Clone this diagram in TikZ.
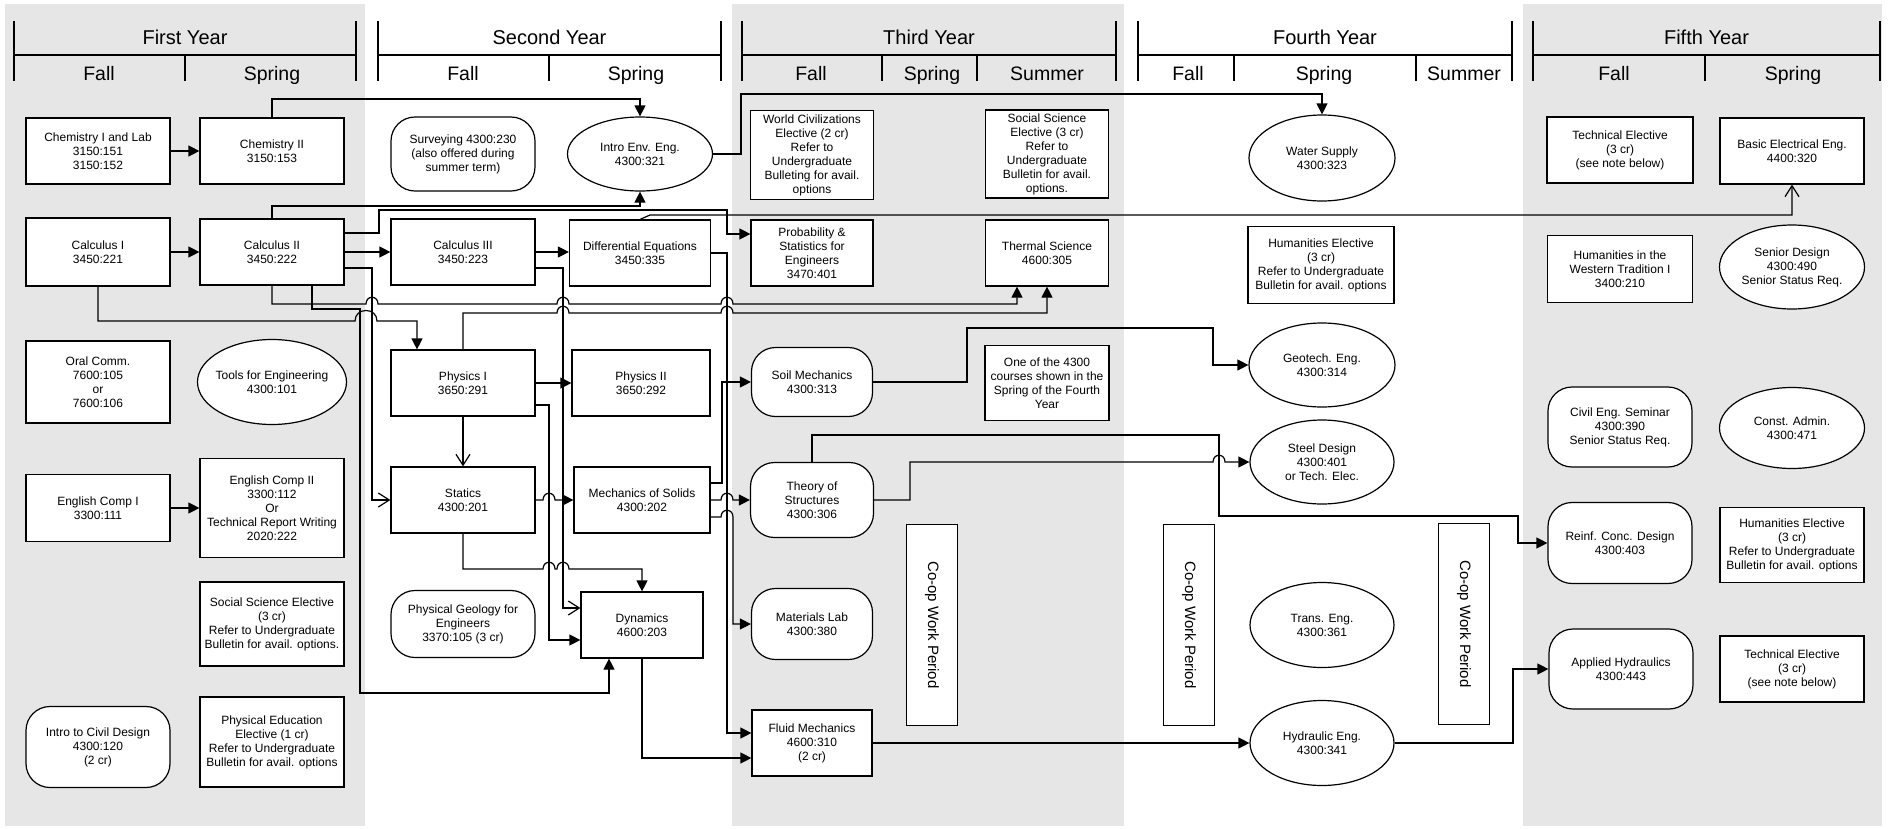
\documentclass[tikz,border=0pt]{standalone}
\usepackage{fontspec}
\setmainfont{Liberation Sans}
\usetikzlibrary{arrows.meta,shapes.geometric}
\definecolor{bandgray}{RGB}{230,230,230}
\newcommand{\coursefont}{\fontsize{12}{14}\selectfont}
\newcommand{\yearfont}{\fontsize{20}{24}\selectfont}
\newcommand{\semfont}{\fontsize{19.5}{23}\selectfont}
\newcommand{\coopfont}{\fontsize{15}{18}\selectfont}
% small jump of a connector over a vertical line at x=#1
\newcommand{\hop}[2]{-- (#1-6,#2) .. controls (#1-6,#2-9) and (#1+6,#2-9) .. (#1+6,#2)}
\tikzset{course/.style={draw, fill=white, line width=1.2pt, align=center, font=\coursefont, inner sep=1pt, minimum width=144pt, minimum height=66pt}}
\tikzset{lab/.style={course, rounded corners=24pt}}
\tikzset{elect/.style={course, ellipse, inner xsep=-20pt, inner ysep=-6pt}}
\tikzset{coop/.style={draw, fill=white, line width=.9pt, rotate=-90, font=\coopfont, minimum width=201pt, minimum height=51pt}}
\tikzset{prereq/.style={line width=1.2pt, -{Triangle[length=11pt,width=11pt]}}}
\tikzset{prereqopen/.style={line width=1.2pt, -{Straight Barb[length=11pt,width=14pt]}}}
\tikzset{header/.style={line width=1.3pt}}

\begin{document}
\begin{tikzpicture}[x=1pt,y=-1pt]
    \useasboundingbox (0,0) rectangle (1891,828);
    \foreach \l/\r in {5/365, 732/1124, 1523/1882} {
        \fill [bandgray] (\l,4) rectangle (\r,826);
    }
    % year headers
    \foreach \l/\r/\yr in {14/356/First Year, 378/721/Second Year, 742/1116/Third Year, 1138/1512/Fourth Year, 1533/1880/Fifth Year} {
        \draw [header] (\l,21) -- (\l,81) (\l,55) -- (\r,55) (\r,21) -- (\r,81);
        \node [font=\yearfont, anchor=base] (year\l) at ({(\l+\r)/2},44) {\yr};
    }
    \foreach \x in {185,549,882,977,1234,1416,1705} {
        \draw [header] (\x,55) -- (\x,81);
    }
    \foreach \x/\sem in {99/Fall,272/Spring,463/Fall,636/Spring,811/Fall,932/Spring,1047/Summer,1188/Fall,1324/Spring,1464/Summer,1614/Fall,1793/Spring} {
        \node [font=\semfont, anchor=base] (sem\x) at (\x,80) {\sem};
    }

    % first year
    \node [course] (chem1) at (98,151) {Chemistry I and Lab\\3150:151\\3150:152};
    \node [course] (chem2) at (272,151) {Chemistry II\\3150:153};
    \node [course, minimum height=68pt] (calc1) at (98,252) {Calculus I\\3450:221};
    \node [course] (calc2) at (272,252) {Calculus II\\3450:222};
    \node [course, minimum height=82pt] (oral) at (98,382) {Oral Comm.\\7600:105\\or\\7600:106};
    \node [elect, minimum width=149pt, minimum height=85pt] (tools) at (272,382) {Tools for Engineering\\4300:101};
    \node [course, minimum height=67pt] (eng1) at (98,508) {English Comp I\\3300:111};
    \node [course, minimum height=99pt] (eng2) at (272,508) {English Comp II\\3300:112\\Or\\Technical Report Writing\\2020:222};
    \node [course, minimum height=84pt] (socsci1) at (272,624) {Social Science Elective\\(3 cr)\\Refer to Undergraduate\\Bulletin for avail. options.};
    \node [lab, minimum height=81pt] (civdes) at (98,747) {Intro to Civil Design\\4300:120\\(2 cr)};
    \node [course, minimum height=90pt] (physed) at (272,742) {Physical Education\\Elective (1 cr)\\Refer to Undergraduate\\Bulletin for avail. options};

    % second year
    \node [lab, minimum height=74pt] (survey) at (463,154) {Surveying 4300:230\\(also offered during\\summer term)};
    \node [elect, minimum width=145pt, minimum height=74pt] (envi) at (640,154) {Intro Env. Eng.\\4300:321};
    \node [course] (calc3) at (463,252) {Calculus III\\3450:223};
    \node [course, minimum width=141pt] (diffeq) at (640,253) {Differential Equations\\3450:335};
    \node [course] (phys1) at (463,383) {Physics I\\3650:291};
    \node [course, minimum width=138pt] (phys2) at (641,383) {Physics II\\3650:292};
    \node [course] (statics) at (463,500) {Statics\\4300:201};
    \node [course, minimum width=136pt] (mos) at (642,500) {Mechanics of Solids\\4300:202};
    \node [lab, minimum height=67pt] (geology) at (463,624) {Physical Geology for\\Engineers\\3370:105 (3 cr)};
    \node [course, minimum width=122pt] (dynamics) at (642,625) {Dynamics\\4600:203};

    % third year
    \node [course, minimum width=123pt, minimum height=89pt] (worldciv) at (812,155) {World Civilizations\\Elective (2 cr)\\Refer to\\Undergraduate\\Bulleting for avail.\\options};
    \node [course, minimum width=123pt, minimum height=88pt] (socsci2) at (1047,154) {Social Science\\Elective (3 cr)\\Refer to\\Undergraduate\\Bulletin for avail.\\options.};
    \node [course, minimum width=122pt] (probstat) at (812,253) {Probability \&\\Statistics for\\Engineers\\3470:401};
    \node [course, minimum width=123pt] (thermal) at (1047,253) {Thermal Science\\4600:305};
    \node [lab, minimum width=121pt, minimum height=69pt] (soil) at (812,382) {Soil Mechanics\\4300:313};
    \node [course, minimum width=124pt, minimum height=75pt] (oneof) at (1047,383) {One of the 4300\\courses shown in the\\Spring of the Fourth\\Year};
    \node [lab, minimum width=123pt, minimum height=75pt] (theory) at (812,500) {Theory of\\Structures\\4300:306};
    \node [lab, minimum width=121pt, minimum height=71pt] (matlab) at (812,624) {Materials Lab\\4300:380};
    \node [coop] (coop3) at (932,625) {Co-op Work Period};
    \node [course, minimum width=120pt] (fluid) at (812,743) {Fluid Mechanics\\4600:310\\(2 cr)};

    % fourth year
    \node [elect, minimum width=146pt, minimum height=86pt] (water) at (1322,158) {Water Supply\\4300:323};
    \node [course, minimum width=146pt, minimum height=77pt] (hum4) at (1321,265) {Humanities Elective\\(3 cr)\\Refer to Undergraduate\\Bulletin for avail. options};
    \node [elect, minimum width=146pt, minimum height=84pt] (geotech) at (1322,365) {Geotech. Eng.\\4300:314};
    \node [elect, minimum width=144pt, minimum height=84pt] (steel) at (1322,462) {Steel Design\\4300:401\\or Tech. Elec.};
    \node [coop] (coop4a) at (1189,625) {Co-op Work Period};
    \node [elect, minimum width=144pt, minimum height=85pt] (trans) at (1322,625) {Trans. Eng.\\4300:361};
    \node [elect, minimum width=144pt, minimum height=85pt] (hydraulic) at (1322,743) {Hydraulic Eng.\\4300:341};
    \node [coop] (coop4b) at (1464,624) {Co-op Work Period};

    % fifth year
    \node [course, minimum width=146pt] (tech5a) at (1620,150) {Technical Elective\\(3 cr)\\(see note below)};
    \node [course] (elec) at (1792,151) {Basic Electrical Eng.\\4400:320};
    \node [course, minimum width=145pt, minimum height=67pt] (western) at (1620,269) {Humanities in the\\Western Tradition I\\3400:210};
    \node [elect, minimum width=145pt, minimum height=84pt] (senior) at (1792,267) {Senior Design\\4300:490\\Senior Status Req.};
    \node [lab, minimum height=80pt] (seminar) at (1620,427) {Civil Eng. Seminar\\4300:390\\Senior Status Req.};
    \node [elect, minimum width=145pt, minimum height=81pt] (admin) at (1792,428) {Const. Admin.\\4300:471};
    \node [lab, minimum height=81pt] (reinf) at (1620,543) {Reinf. Conc. Design\\4300:403};
    \node [course, minimum height=75pt] (hum5) at (1792,545) {Humanities Elective\\(3 cr)\\Refer to Undergraduate\\Bulletin for avail. options};
    \node [lab, minimum height=80pt] (applied) at (1621,669) {Applied Hydraulics\\4300:443};
    \node [course] (tech5b) at (1792,669) {Technical Elective\\(3 cr)\\(see note below)};

    % prerequisites
    \draw [prereq] (chem1.east) -- (chem2.west);
    \draw [prereq] (calc1.east) -- (calc2.west);
    \draw [prereq] (eng1.east) -- (eng2.west);
    \draw [prereq] (chem2.north) -- (272,99) -| (envi.north);
    \draw [prereq] (envi.east) -- (741,154) -- (741,94) -| (water.north);
    \draw [prereq] (calc2.north) -- (272,206) -| (envi.south);
    \draw [prereq] ([yshift=19pt]calc2.east) -| (379,210) -| (727,234) -- ([yshift=19pt]probstat.west);
    \draw [prereq] (calc2.east) -- (calc3.west);
    \draw [prereqopen] ([yshift=-16pt]calc2.east) -| (372,500) -- (statics.west);
    \draw [prereq] (calc2.south) -- (272,304) \hop{372}{304} \hop{563}{304} \hop{727}{304} -| ([xshift=-30pt]thermal.south);
    \draw [prereq] ([xshift=40pt]calc2.south) |- (360,309) -- (360,693) -| ([xshift=-33pt]dynamics.south);
    \draw [prereq] (calc1.south) |- (355,321) .. controls (355,307) and (377,307) .. (377,321) -| ([xshift=-46pt]phys1.north);
    \draw [prereq] (phys1.north) -- (463,313) \hop{563}{313} \hop{727}{313} -| (thermal.south);
    \draw [prereq] (calc3.east) -- (calc3.east -| diffeq.west);
    \draw [prereqopen] ([yshift=-16pt]calc3.east) -| (563,608) -- ([yshift=17pt]dynamics.west);
    \draw [prereq] (phys1.east) -- (phys2.west);
    \draw [prereq] ([yshift=-22pt]phys1.east) -| (549,640) -- ([yshift=-15pt]dynamics.west);
    \draw [prereqopen] (phys1.south) -- (statics.north);
    \draw [prereq] (statics.east) \hop{549}{500} -- (mos.west);
    \draw [prereq] (statics.south) -- (463,569) \hop{549}{569} \hop{563}{569} -| (dynamics.north);
    \draw [prereq] ([yshift=17pt]mos.east) -| (722,382) -- (soil.west);
    \draw [prereq] (mos.east) \hop{727}{500} -- (theory.west);
    \draw [prereq] ([yshift=-17pt]mos.east) -- (721,517) .. controls (721,508) and (733,508) .. (733,517) |- (matlab.west);
    \draw [prereq] (diffeq.east) -| (727,733) -- ([yshift=10pt]fluid.west);
    \draw [prereq] (dynamics.south) |- ([yshift=-15pt]fluid.west);
    \draw [prereqopen] (diffeq.north) -- (650,215) -| (elec.south);
    \draw [prereq] (soil.east) -| (967,328) -| (1213,365) -- (geotech.west);
    \draw [prereq] (theory.north) |- (1219,435) |- (1518,516) |- (reinf.west);
    \draw [prereq] (theory.east) -| (910,462) \hop{1219}{462} -- (steel.west);
    \draw [prereq] (fluid.east) -- (hydraulic.west);
    \draw [prereq] (hydraulic.east) -| (1513,669) -- (applied.west);
\end{tikzpicture}
\end{document}
